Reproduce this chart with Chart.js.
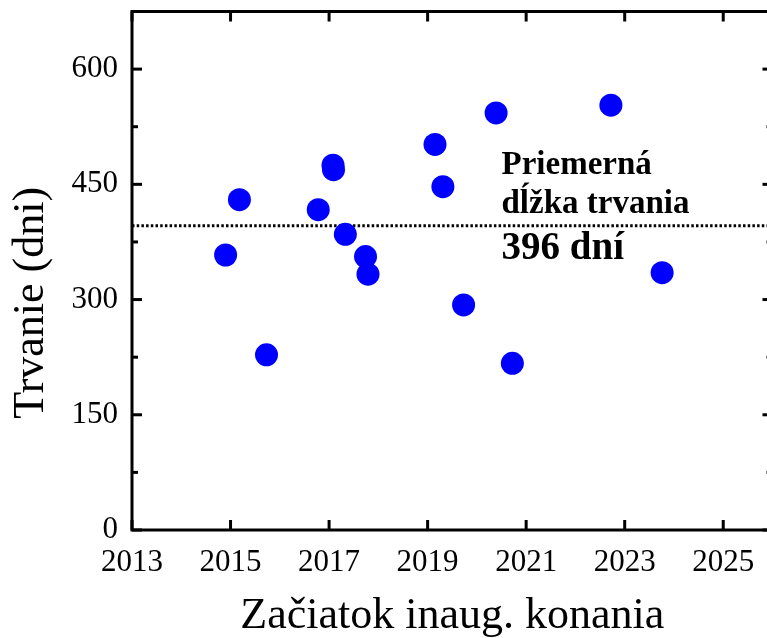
<!DOCTYPE html>
<html>
<head>
<meta charset="utf-8">
<script src="https://cdn.jsdelivr.net/npm/chart.js@4.4.1/dist/chart.umd.min.js"></script>
<style>
html, body { margin: 0; padding: 0; background: #fff; overflow: hidden; }
#wrap { width: 767px; height: 638px; overflow: hidden; }
</style>
</head>
<body>
<div id="wrap"><canvas id="chart" width="784" height="638"></canvas></div>
<script>
// start of inauguration proceedings (year) and how long it lasted (days)
const startYears = [2014.90, 2015.18, 2015.73, 2016.78, 2017.08, 2017.09, 2017.33, 2017.74, 2017.79, 2019.15, 2019.31, 2019.73, 2020.39, 2020.72, 2022.72, 2023.76];
const durations  = [358, 430, 228, 417, 475, 469, 385, 356, 333, 502, 447, 293, 543, 217, 553, 335];
const meanDuration = 396;

const xTicks = [2013, 2015, 2017, 2019, 2021, 2023, 2025];
const yTicks = [0, 75, 150, 225, 300, 375, 450, 525, 600];
const yLabelStep = 150;

const noteLines = ['Priemerná', 'dĺžka trvania'];
const noteValue = '396 dní';
const noteYear = 2020.5;

const SERIF = '"Liberation Serif", "Times New Roman", serif';

// no extra room for edge labels, the box is fixed
const noPad = s => { s.paddingTop = 0; s.paddingBottom = 0; s.paddingLeft = 0; s.paddingRight = 0; };

const framePlugin = {
    id: 'frame',
    afterDatasetsDraw(chart) {
        const {ctx, chartArea: a, scales: {x, y}} = chart;
        const lineY = y.getPixelForValue(meanDuration);
        const nx = x.getPixelForValue(noteYear);
        ctx.save();
        ctx.fillStyle = '#000';
        ctx.textAlign = 'left';
        ctx.textBaseline = 'alphabetic';
        ctx.font = `bold 33px ${SERIF}`;
        ctx.fillText(noteLines[0], nx, lineY - 52);
        ctx.fillText(noteLines[1], nx, lineY - 13);
        ctx.font = `bold 39px ${SERIF}`;
        ctx.fillText(noteValue, nx, lineY + 33);

        // y axis title
        ctx.font = `44px ${SERIF}`;
        ctx.textAlign = 'center';
        ctx.translate(43, (a.top + a.bottom) / 2 + 32);
        ctx.rotate(-Math.PI / 2);
        ctx.fillText('Trvanie (dni)', 0, 0);
        ctx.restore();
    },
    afterDraw(chart) {
        const {ctx, chartArea: a, scales: {x, y}} = chart;
        ctx.save();
        ctx.strokeStyle = '#000';
        ctx.lineWidth = 3;
        ctx.strokeRect(a.left, a.top, a.right - a.left, a.bottom - a.top);
        const seg = (x1, y1, x2, y2) => {
            ctx.beginPath();
            ctx.moveTo(x1, y1);
            ctx.lineTo(x2, y2);
            ctx.stroke();
        };
        x.ticks.forEach(t => {
            const px = x.getPixelForValue(t.value);
            seg(px, a.bottom, px, a.bottom - 10);
            seg(px, a.top, px, a.top + 10);
        });
        y.ticks.forEach(t => {
            const len = t.value % yLabelStep === 0 ? 10 : 6;
            const py = y.getPixelForValue(t.value);
            seg(a.left, py, a.left + len, py);
            seg(a.right, py, a.right - len, py);
        });
        ctx.restore();
    }
};

const points = startYears.map((yr, i) => ({x: yr, y: durations[i]}));

new Chart(document.getElementById('chart'), {
    type: 'scatter',
    data: {
        datasets: [{
            data: points,
            backgroundColor: '#0000ff',
            borderColor: '#0000ff',
            borderWidth: 0,
            pointRadius: 11.5
        }, {
            data: [{x: 2013, y: meanDuration}, {x: 2026, y: meanDuration}],
            showLine: true,
            borderColor: '#000',
            borderWidth: 3,
            borderDash: [2.5, 2.2],
            pointRadius: 0,
            fill: false
        }]
    },
    options: {
        responsive: false,
        animation: false,
        devicePixelRatio: 1,
        layout: { padding: { top: 11, right: 0, left: 0, bottom: 0 } },
        plugins: {
            legend: { display: false },
            tooltip: { enabled: false }
        },
        scales: {
            x: {
                type: 'linear',
                min: 2013,
                max: 2026,
                afterBuildTicks: s => { s.ticks = xTicks.map(v => ({value: v})); },
                afterFit: s => { s.height = 108; noPad(s); },
                grid: { display: false, drawTicks: false },
                border: { display: false },
                ticks: {
                    padding: 14,
                    color: '#000',
                    maxRotation: 0,
                    autoSkip: false,
                    font: { family: SERIF, size: 31 },
                    callback: v => String(v)
                },
                title: {
                    display: true,
                    text: 'Začiatok inaug. konania',
                    color: '#000',
                    font: { family: SERIF, size: 44 },
                    padding: { top: 0, bottom: -5 }
                }
            },
            y: {
                min: 0,
                max: 675,
                afterBuildTicks: s => { s.ticks = yTicks.map(v => ({value: v})); },
                afterFit: s => { s.width = 132; noPad(s); },
                grid: { display: false, drawTicks: false },
                border: { display: false },
                ticks: {
                    padding: 14,
                    color: '#000',
                    autoSkip: false,
                    font: { family: SERIF, size: 31 },
                    callback: v => v % yLabelStep === 0 ? String(v) : ''
                }
            }
        }
    },
    plugins: [framePlugin]
});
</script>
</body>
</html>
